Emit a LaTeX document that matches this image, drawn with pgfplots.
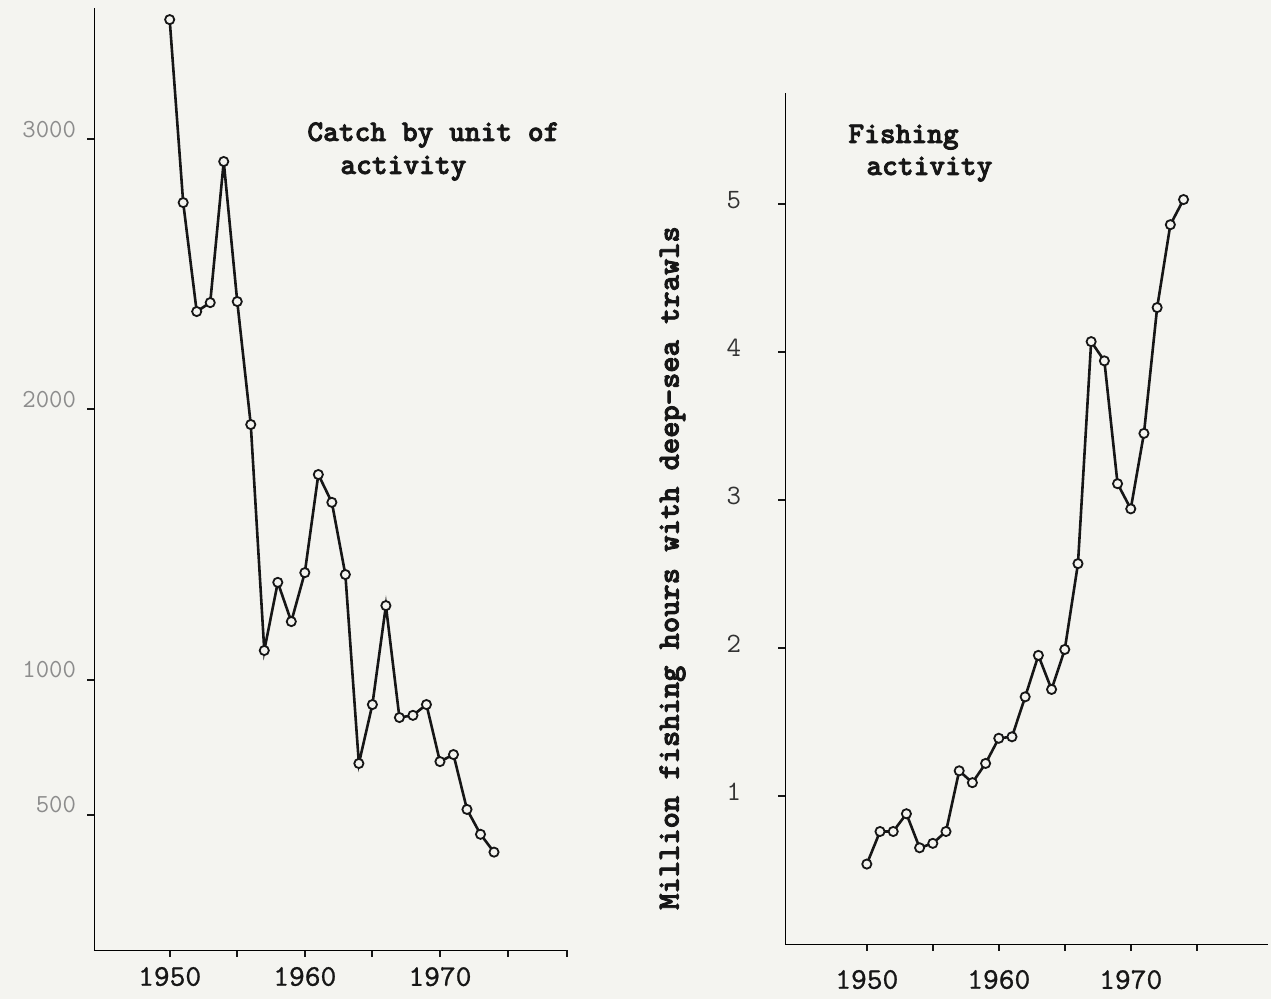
\documentclass[border=0pt]{standalone}
\usepackage{fontspec}
\usepackage{pgfplots}
\pgfplotsset{compat=1.18}

% heavy typewriter face for the typed titles, lighter one for the numbers
\newfontfamily\typebold{lmmonolt10-bold.otf}[FakeBold=2.6]
\newfontfamily\typeplain{lmmono10-regular.otf}[FakeBold=0.8]

\definecolor{paper}{RGB}{244,244,240}
\definecolor{ink}{RGB}{22,22,22}

% year, catch by unit of activity, million fishing hours
\pgfplotstableread{
year catch hours
1950 3442 0.54
1951 2765 0.76
1952 2362 0.76
1953 2395 0.88
1954 2917 0.65
1955 2399 0.68
1956 1944 0.76
1957 1108 1.17
1958 1360 1.09
1959 1215 1.22
1960 1396 1.39
1961 1759 1.40
1962 1656 1.67
1963 1389 1.95
1964  690 1.72
1965  908 1.99
1966 1274 2.57
1967  860 4.07
1968  868 3.94
1969  908 3.11
1970  697 2.94
1971  723 3.45
1972  520 4.30
1973  428 4.86
1974  362 5.03
}\fishdata

\newcommand{\typefont}{\fontsize{15}{18}\selectfont\typebold}

\pgfplotsset{
  panel/.style={
    scale only axis,
    anchor=south west,
    axis x line*=bottom,
    axis y line*=left,
    tick align=outside,
    major tick length=3.5pt,
    minor tick length=3.5pt,
    tick style={ink, line width=1pt},
    every axis x line/.append style={ink, line width=1pt, dash pattern=on 6pt off 0.7pt},
    every axis y line/.append style={ink, line width=1.5pt},
    /pgf/number format/1000 sep={},
    /pgf/number format/assume math mode=true,
    xtick={1950,1960,1970},
    minor xtick={1955,1965,1975},
    xticklabel style={font=\fontsize{15}{15}\selectfont\typeplain, text=ink},
    ymin=0,
  },
  series/.style={ink, line width=1.3pt, mark=*, mark size=2.3pt,
    mark options={fill=paper, draw=ink, line width=0.9pt}},
}

\begin{document}
\begin{tikzpicture}
\useasboundingbox (0pt,0pt) rectangle (635.5pt,499.5pt);
\fill[paper] (0pt,0pt) rectangle (635.5pt,499.5pt);

% left panel: catch by unit of activity
\begin{axis}[panel,
  at={(47pt,24.5pt)},
  width=236.5pt, height=471pt,
  xmin=1944.4, xmax=1979.4,
  ymax=3485,
  ytick={500,1000,2000,3000},
  extra x ticks={1979.4}, extra x tick labels={},
  xticklabel style={yshift=-1.5pt},
  yticklabel style={font=\fontsize{13}{13}\selectfont\ttfamily, text=black!45, xshift=-2pt, yshift=5pt},
]
\addplot[series] table[x=year, y=catch] {\fishdata};
\end{axis}

% right panel: fishing activity
\begin{axis}[panel,
  at={(392.5pt,27.5pt)},
  width=241.5pt, height=425.5pt,
  xmin=1943.8, xmax=1980.4,
  ymax=5.75,
  ytick={1,2,3,4,5},
  xticklabel style={yshift=-6pt},
  yticklabel style={font=\fontsize{14}{14}\selectfont\ttfamily, text=black!80, xshift=-15pt, yshift=2pt},
]
\addplot[series] table[x=year, y=hours] {\fishdata};
\end{axis}

\node[anchor=base west, inner sep=0pt, font=\typefont, text=ink] at (153.5pt,429pt) {Catch by unit of};
\node[anchor=base west, inner sep=0pt, font=\typefont, text=ink] at (170pt,412.5pt) {activity};
\node[anchor=base west, inner sep=0pt, font=\typefont, text=ink] at (424pt,428pt) {Fishing};
\node[anchor=base west, inner sep=0pt, font=\typefont, text=ink] at (433pt,412pt) {activity};
\node[rotate=90, inner sep=0pt, font=\fontsize{15.5}{18}\selectfont\typebold, text=ink]
  at (336.25pt,215.5pt) {Million fishing hours with deep-sea trawls};
\end{tikzpicture}
\end{document}
